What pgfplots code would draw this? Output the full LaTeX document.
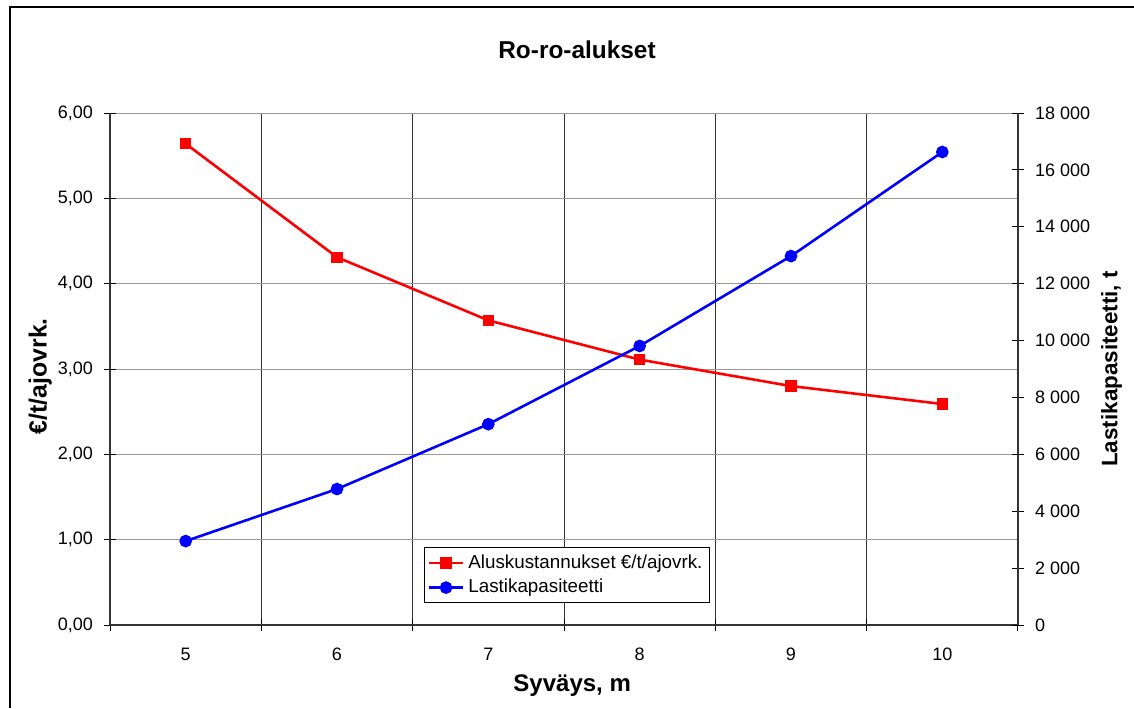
\documentclass[border=0pt]{standalone}
\usepackage{fontspec}
\setmainfont{Liberation Sans}
\usepackage{pgfplots}
\pgfplotsset{compat=1.18}
\begin{document}
\begin{tikzpicture}
\path[use as bounding box] (0,0) rectangle (567pt,354pt);
\draw[line width=1.1pt] (4.8pt,0) -- (4.8pt,350.3pt) -- (567pt,350.3pt);
\node[font=\bfseries\fontsize{12.2}{14}\selectfont] at (288.5pt,329pt) {Ro-ro-alukset};
\begin{axis}[
  at={(55pt,41.5pt)}, anchor=south west,
  width=454pt, height=256pt, scale only axis,
  xmin=4.5, xmax=10.5, ymin=0, ymax=6,
  xtick={5,...,10},
  major x tick style={draw=none},
  minor xtick={4.5,5.5,...,10.5},
  xminorgrids=true,
  minor x grid style={black!80, line width=0.5pt},
  minor tick length=6pt,
  minor x tick style={black, line width=0.5pt},
  ytick={0,1,...,6},
  ymajorgrids=true,
  major y grid style={black!40, line width=0.5pt},
  major tick length=6pt,
  y tick style={black, line width=0.5pt},
  tick align=center,
  axis y line*=left,
  axis x line*=bottom,
  axis line style={black!80, line width=0.6pt},
  tick label style={font=\fontsize{9}{10}\selectfont},
  xticklabel style={yshift=-5pt},
  yticklabel style={xshift=-2pt},
  /pgf/number format/assume math mode=true,
  yticklabel={\pgfmathprintnumber[fixed,fixed zerofill,precision=2,use comma]{\tick}},
  xlabel={Syväys, m},
  xlabel style={font=\bfseries\fontsize{12}{14}\selectfont, at={(axis description cs:0.509,-0.119)}, anchor=center},
  ylabel={€/t/ajovrk.},
  ylabel style={font=\bfseries\fontsize{12.4}{14}\selectfont, at={(axis description cs:-0.077,0.486)}, anchor=center},
  legend style={at={(0.346,0.152)}, anchor=north west, draw=black, line width=0.5pt,
    font=\fontsize{9.4}{11}\selectfont, inner sep=1.5pt, row sep=0pt, cells={anchor=west}},
  legend image post style={line width=1.3pt},
]
\addplot[red, line width=1.3pt, mark=square*, mark size=2.2pt] coordinates {
(5,5.64) (6,4.31) (7,3.57) (8,3.11) (9,2.80) (10,2.59)};
\addlegendentry{Aluskustannukset €/t/ajovrk.}
\addlegendimage{blue, line width=1.3pt, mark=*, mark size=2.5pt}
\addlegendentry{Lastikapasiteetti}
\end{axis}
\begin{axis}[
  at={(55pt,41.5pt)}, anchor=south west,
  width=454pt, height=256pt, scale only axis,
  xmin=4.5, xmax=10.5, ymin=0, ymax=18000,
  axis x line=none,
  axis y line*=right,
  axis line style={black!80, line width=0.6pt},
  ytick={0,2000,...,18000},
  major tick length=6pt,
  y tick style={black, line width=0.5pt},
  tick align=center,
  tick label style={font=\fontsize{9}{10}\selectfont},
  yticklabel style={xshift=2pt},
  /pgf/number format/assume math mode=true,
  /pgf/number format/1000 sep={\ },
  scaled y ticks=false,
  ylabel={Lastikapasiteetti, t},
  ylabel style={font=\bfseries\fontsize{11.2}{13}\selectfont, at={(axis description cs:1.103,0.5)}, anchor=center},
]
\addplot[blue, line width=1.3pt, mark=*, mark size=2.5pt] coordinates {
(5,2950) (6,4780) (7,7060) (8,9810) (9,12970) (10,16630)};
\end{axis}
\end{tikzpicture}
\end{document}
